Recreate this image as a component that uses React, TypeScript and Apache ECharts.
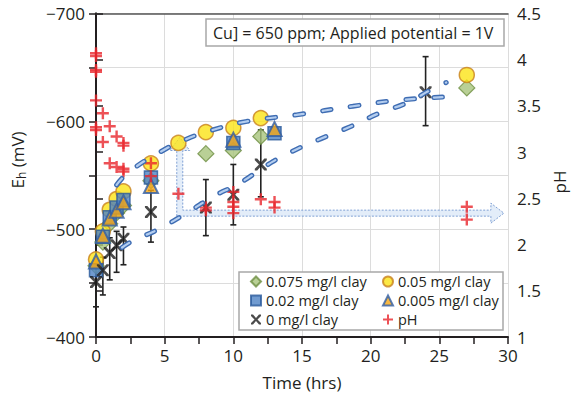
import React, { useEffect, useRef } from 'react';
import * as echarts from 'echarts';

const FONT = '"Open Sans", "Noto Sans", sans-serif';

// Eh (mV) readings: [time (hrs), Eh]
const clay075 = [[0, -466], [0.5, -488], [1, -505], [1.5, -515], [2, -522], [4, -545], [8, -570], [10, -573], [12, -586], [27, -631]];
const clay05 = [[0, -472], [0.5, -498], [1, -518], [1.5, -528], [2, -535], [4, -561], [6, -580], [8, -590], [10, -594], [12, -603], [27, -643]];
const clay02 = [[0, -462], [0.5, -493], [1, -511], [1.5, -520], [2, -527], [4, -548], [10, -580], [13, -589]];
const clay005 = [[0, -470], [0.5, -494], [1, -510], [1.5, -517], [2, -525], [4, -540], [10, -583], [13, -593]];
const clay0 = [[0, -451], [0.5, -462], [1, -478], [1.5, -485], [2, -491], [4, -516], [8, -520], [10, -532], [12, -560], [24, -627]];
// error bars for 0 mg/l clay: [time, low, high]
const clay0Err = [[0, -471, -428], [0.5, -474, -439], [1, -492, -453], [1.5, -498, -460], [2, -502, -467], [4, -536, -488], [8, -546, -494], [10, -560, -504], [12, -592, -530], [24, -660, -596]];
// pH readings: [time, pH]
const phData = [[0, 4.07], [0, 4.04], [0, 3.89], [0, 3.87], [0, 3.56], [0, 3.27], [0, 3.24], [0.5, 3.42], [0.5, 3.11], [1, 3.28], [1, 2.88], [1.5, 3.17], [1.5, 2.84], [2, 3.1], [2, 3.07], [2, 2.82], [2, 2.79], [4, 2.88], [4, 2.74], [6, 2.55], [8, 2.4], [8, 2.37], [10, 2.57], [10, 2.46], [10, 2.41], [10, 2.34], [12, 2.49], [13, 2.46], [13, 2.4], [27, 2.41], [27, 2.27]];
// dashed trend curves
const trendUpper = [[1.5, -541], [2.4, -553], [4.6, -571], [6.5, -583], [8.5, -592], [11, -600], [14.6, -606], [18.7, -614], [22.4, -620], [26.3, -623]];
const trendLower = [[1.9, -483], [2.8, -490], [4.4, -499], [6.6, -515], [8.5, -530], [10.5, -543], [12.4, -559], [14.1, -571], [16.4, -584], [18.5, -595], [20.7, -608], [22.6, -617], [24.5, -630], [25.5, -636]];
// arrow annotation anchors
const arrowCorner = [6.1, 2.34]; // (time, pH)
const arrowUpTipEh = -585;
const arrowRightTipTime = 29.7;

const annotationText = 'Cu] = 650 ppm; Applied potential = 1V';
const legendCol1 = ['0.075 mg/l clay', '0.02 mg/l clay', '0 mg/l clay'];
const legendCol2 = ['0.05 mg/l clay', '0.005 mg/l clay', 'pH'];

const X_PATH = 'path://M0,0 L2,0 L5,3.4 L8,0 L10,0 L10,1.4 L6.5,5 L10,8.6 L10,10 L8,10 L5,6.6 L2,10 L0,10 L0,8.6 L3.5,5 L0,1.4 Z';
const PLUS_PATH = 'path://M4,0 L6,0 L6,4 L10,4 L10,6 L6,6 L6,10 L4,10 L4,6 L0,6 L0,4 L4,4 Z';

const trendSeries = (data: number[][], name: string) => [
  {
    name: name + 'o', type: 'line', data, smooth: true, showSymbol: false, silent: true, z: 6,
    lineStyle: { color: '#3f6db3', width: 5, type: [8.5, 19.5], cap: 'round' },
  },
  {
    name: name + 'i', type: 'line', data, smooth: true, showSymbol: false, silent: true, z: 7,
    lineStyle: { color: '#b3cdef', width: 2.2, type: [8.5, 19.5], cap: 'round' },
  },
];

export default function App() {
  const ref = useRef<HTMLDivElement>(null);
  useEffect(() => {
    document.body.style.margin = '0';
    if (!ref.current) return;
    const chart = echarts.init(ref.current, undefined, { renderer: 'svg' });
    const axisText = { fontFamily: FONT, fontSize: 17, color: '#231f20' };
    const legendBase = {
      orient: 'vertical', top: 274, itemGap: 4, itemWidth: 10, itemHeight: 10, padding: 0, z: 10,
      textStyle: { fontFamily: FONT, fontSize: 14.5, color: '#231f20' }, selectedMode: false,
    };
    chart.setOption({
      animation: false,
      grid: { left: 96, right: 67, top: 13.5, bottom: 69 },
      xAxis: [
        {
          type: 'value', min: 0, max: 30, interval: 5,
          axisLine: { lineStyle: { color: '#231f20', width: 2 } },
          axisTick: { length: 7, lineStyle: { color: '#231f20', width: 1.5 } },
          minorTick: { show: true, splitNumber: 2, length: 7, lineStyle: { color: '#231f20', width: 1.5 } },
          axisLabel: { ...axisText, margin: 10 },
          splitLine: { show: true, lineStyle: { color: '#dcdcdc', width: 1 } },
          name: 'Time (hrs)', nameLocation: 'middle', nameGap: 37,
          nameTextStyle: { fontFamily: FONT, fontSize: 17, color: '#231f20' },
        },
        {
          type: 'value', min: 0, max: 30, position: 'top',
          axisLine: { show: true, lineStyle: { color: '#555', width: 1.5 } },
          axisTick: { show: false }, axisLabel: { show: false }, splitLine: { show: false },
        },
      ],
      yAxis: [
        {
          type: 'value', min: -700, max: -400, interval: 100, inverse: true,
          axisLine: { show: true, lineStyle: { color: '#231f20', width: 2 } },
          axisTick: { show: true, length: 7, lineStyle: { color: '#231f20', width: 1.5 } },
          minorTick: { show: true, splitNumber: 2, length: 7, lineStyle: { color: '#231f20', width: 1.5 } },
          axisLabel: { ...axisText, margin: 11, formatter: (v: number) => String(v).replace('-', '\u2212') },
          splitLine: { show: true, lineStyle: { color: '#dcdcdc', width: 1 } },
          minorSplitLine: { show: true, lineStyle: { color: '#dcdcdc', width: 1 } },
        },
        {
          type: 'value', min: 1, max: 4.5, interval: 0.5, position: 'right',
          axisLine: { show: true, lineStyle: { color: '#231f20', width: 2 } },
          axisTick: { show: true, length: 7, lineStyle: { color: '#231f20', width: 1.5 } },
          axisLabel: { ...axisText, margin: 9 },
          splitLine: { show: false },
        },
      ],
      legend: [
        { ...legendBase, left: 250, data: legendCol1 },
        { ...legendBase, left: 382, data: legendCol2 },
      ],
      series: [
        {
          name: 'err', type: 'custom', yAxisIndex: 0, data: clay0Err, z: 3, silent: true,
          encode: { x: 0, y: [1, 2] },
          renderItem: (params: any, api: any) => {
            const t = api.value(0);
            const p1 = api.coord([t, api.value(1)]);
            const p2 = api.coord([t, api.value(2)]);
            const st = { stroke: '#222', lineWidth: 1.6 };
            return {
              type: 'group',
              children: [
                { type: 'line', shape: { x1: p1[0], y1: p1[1], x2: p2[0], y2: p2[1] }, style: st },
                { type: 'line', shape: { x1: p1[0] - 3, y1: p1[1], x2: p1[0] + 3, y2: p1[1] }, style: st },
                { type: 'line', shape: { x1: p2[0] - 3, y1: p2[1], x2: p2[0] + 3, y2: p2[1] }, style: st },
              ],
            };
          },
        },
        {
          name: '0.075 mg/l clay', type: 'scatter', data: clay075, symbol: 'diamond', symbolSize: 16, z: 4,
          itemStyle: { color: '#a8c47c', borderColor: '#6e8f42', borderWidth: 1.2 },
        },
        {
          name: '0.05 mg/l clay', type: 'scatter', data: clay05, symbol: 'circle', symbolSize: 15, z: 4,
          itemStyle: { color: '#fbe316', borderColor: '#c8811d', borderWidth: 1.5 },
        },
        {
          name: '0.02 mg/l clay', type: 'scatter', data: clay02, symbol: 'rect', symbolSize: 13, z: 4,
          itemStyle: { color: '#4d82c4', borderColor: '#2b5a9b', borderWidth: 1.5 },
        },
        {
          name: '0.005 mg/l clay', type: 'scatter', data: clay005, symbol: 'triangle', symbolSize: 14, z: 4,
          itemStyle: { color: '#f6a614', borderColor: '#2f5ea6', borderWidth: 2 },
        },
        {
          name: '0 mg/l clay', type: 'scatter', data: clay0, symbol: X_PATH, symbolSize: 12, z: 5,
          itemStyle: { color: '#1e1e1e' },
        },
        {
          name: 'pH', type: 'scatter', yAxisIndex: 1, data: phData, symbol: PLUS_PATH, symbolSize: 12, z: 5,
          itemStyle: { color: '#e8262c' },
        },
        ...trendSeries(trendUpper, 'up'),
        ...trendSeries(trendLower, 'low'),
      ],
    });

    const c = chart.convertToPixel({ xAxisIndex: 0, yAxisIndex: 1 }, arrowCorner) as number[];
    const up = chart.convertToPixel({ xAxisIndex: 0, yAxisIndex: 0 }, [arrowCorner[0], arrowUpTipEh]) as number[];
    const rt = chart.convertToPixel({ xAxisIndex: 0, yAxisIndex: 1 }, [arrowRightTipTime, arrowCorner[1]]) as number[];
    const w = 3, hw = 10, hl = 13;
    const cx = c[0], cy = c[1], ty = up[1], tx = rt[0];
    const arrowPts = [
      [cx - w, cy + w], [cx - w, ty + hl], [cx - hw, ty + hl], [cx, ty], [cx + hw, ty + hl], [cx + w, ty + hl],
      [cx + w, cy - w], [tx - hl, cy - w], [tx - hl, cy - hw], [tx, cy], [tx - hl, cy + hw], [tx - hl, cy + w],
    ];

    chart.setOption({
      graphic: [
        {
          type: 'polygon', z: 1, shape: { points: arrowPts },
          style: { fill: 'rgba(220,232,248,0.8)', stroke: '#7fa0d4', lineWidth: 1, lineDash: [2, 1.5] },
        },
        {
          type: 'rect', z: 3, shape: { x: 206, y: 19, width: 298, height: 27 },
          style: { fill: '#fff', stroke: '#a8a8a8', lineWidth: 1.5 },
        },
        {
          type: 'text', z: 4, x: 213, y: 32.5,
          style: { text: annotationText, fontFamily: FONT, fontSize: 16, fill: '#231f20', verticalAlign: 'middle' },
        },
        {
          type: 'rect', z: 3, shape: { x: 239, y: 272, width: 264, height: 58 },
          style: { fill: '#fff', stroke: '#a8a8a8', lineWidth: 1.5 },
        },
        {
          type: 'text', z: 4, x: 17, y: 160, rotation: Math.PI / 2,
          style: {
            text: '{a|E}{b|h}{a| (mV)}', align: 'center', verticalAlign: 'middle',
            rich: {
              a: { fontFamily: FONT, fontSize: 17, fill: '#231f20', lineHeight: 22 },
              b: { fontFamily: FONT, fontSize: 12, fill: '#231f20', lineHeight: 22, padding: [9, 0, 0, 0] },
            },
          },
        },
        {
          type: 'text', z: 4, x: 559, y: 182, rotation: Math.PI / 2,
          style: { text: 'pH', fontFamily: FONT, fontSize: 17, fill: '#231f20', align: 'center', verticalAlign: 'middle' },
        },
      ],
    });

    return () => chart.dispose();
  }, []);
  return <div ref={ref} style={{ width: 575, height: 406 }} />;
}
